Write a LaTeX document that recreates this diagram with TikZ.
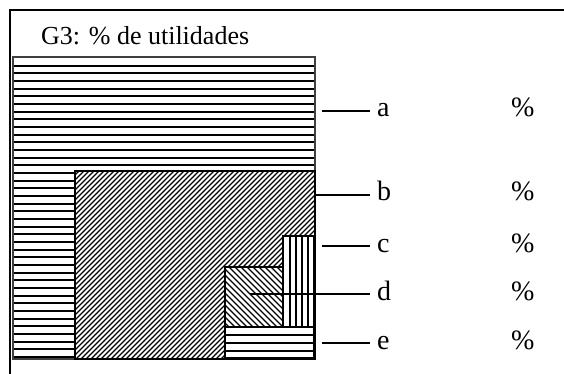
\documentclass[tikz,border=0pt]{standalone}
\usepackage{fontspec}
\setmainfont{Liberation Serif}
\begin{document}
\begin{tikzpicture}[x=1pt,y=-1pt,
  framel/.style={line width=2pt,black},
  stripe/.style={line width=2pt,black},
  hatchl/.style={line width=1.1pt,black},
  boxedge/.style={line width=1.2pt,black},
  leader/.style={line width=1.3pt,black},
  lbl/.style={anchor=base west,inner sep=0pt,font=\fontsize{28}{30}\selectfont},
  ttl/.style={anchor=base west,inner sep=0pt,font=\fontsize{26}{28}\selectfont}]
\useasboundingbox (0,0) rectangle (564,374);
% frame
\coordinate (f1) at (10,374);
\coordinate (f2) at (10,10);
\coordinate (f3) at (564,10);
\draw[framel] (f1) -- (f2) -- (f3);
% title
\node[ttl] (title) at (41,45) {G3: \% de utilidades};
% a
\fill[white] (13,57) rectangle (315,359);
\foreach \i in {0,...,38} {
  \pgfmathsetmacro\yy{round(65.5+7.67*\i)}
  \draw[stripe] (13,\yy) -- (315,\yy);
}
\draw[line width=1.2pt,black!75] (13,57) rectangle (315,359);
% b
\fill[white] (75,171) rectangle (315,359);
\begin{scope}
\clip (75,171) rectangle (315,359);
\foreach \x in {-115,-110,...,320} \draw[hatchl] (\x,360) -- ++(200,-200);
\end{scope}
\draw[boxedge] (75,171) rectangle (315,359);
% c
\fill[white] (283,236) rectangle (314,327);
\foreach \x in {289.5,295.7,...,310} \draw[stripe] (\x,236) -- (\x,327);
\draw[boxedge] (283,236) rectangle (314,327);
% d
\fill[white] (225,267) rectangle (283,327);
\begin{scope}
\clip (225,267) rectangle (283,327);
\foreach \x in {150,156,...,290} \draw[hatchl] (\x,266) -- ++(70,70);
\end{scope}
\draw[boxedge] (225,267) rectangle (283,327);
% e
\fill[white] (225,327) rectangle (314,358);
\foreach \y in {335,343,351} \draw[stripe] (225,\y) -- (314,\y);
\draw[boxedge] (225,327) rectangle (314,358);
% labels
\node[lbl] (la) at (377,117) {a};
\node[lbl] (lb) at (377,200) {b};
\node[lbl] (lc) at (377,252) {c};
\node[lbl] (ld) at (377,300) {d};
\node[lbl] (le) at (377,349) {e};
\node[lbl] (pa) at (511,117) {\%};
\node[lbl] (pb) at (511,200) {\%};
\node[lbl] (pc) at (511,252) {\%};
\node[lbl] (pd) at (511,300) {\%};
\node[lbl] (pe) at (511,349) {\%};
% leaders
\coordinate (sa) at (322,111); \coordinate (ea) at (370,111);
\coordinate (sb) at (315,195); \coordinate (eb) at (370,195);
\coordinate (sc) at (322,246); \coordinate (ec) at (370,246);
\coordinate (sd) at (250,294); \coordinate (ed) at (370,294);
\coordinate (se) at (322,343); \coordinate (ee) at (370,343);
\draw[leader] (sa) -- (ea);
\draw[leader] (sb) -- (eb);
\draw[leader] (sc) -- (ec);
\draw[leader] (sd) -- (ed);
\draw[leader] (se) -- (ee);
\end{tikzpicture}
\end{document}
